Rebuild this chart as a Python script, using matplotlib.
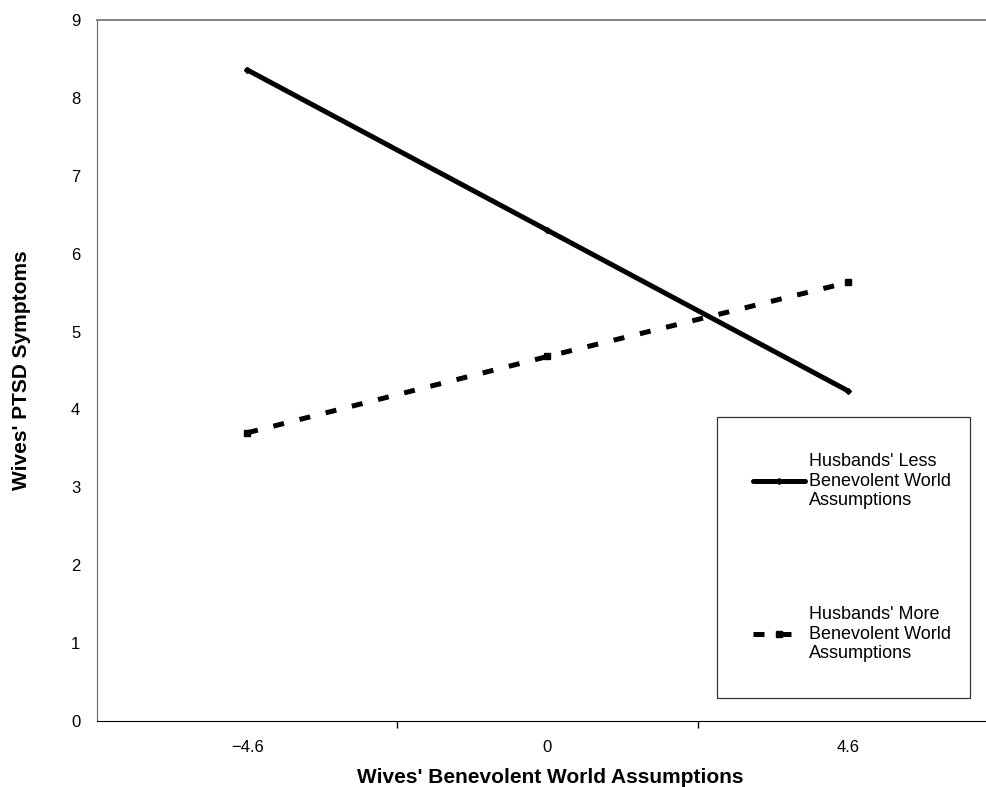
import matplotlib
matplotlib.use("Agg")
import matplotlib.pyplot as plt

plt.rcParams['font.family'] = ['Liberation Sans', 'DejaVu Sans']

# data
x_labels = ["\u22124.6", "0", "4.6"]
less_benevolent = [8.36, 6.30, 4.24]
more_benevolent = [3.70, 4.68, 5.63]
series_names = ["Husbands' Less\nBenevolent World\nAssumptions",
                "Husbands' More\nBenevolent World\nAssumptions"]
y_ticks = list(range(0, 10))

fig = plt.figure(figsize=(9.87, 7.87), dpi=100)
# plot area runs a bit past the right edge of the picture, as in the original
ax = fig.add_axes([97 / 987, 66 / 787, 901 / 987, 701 / 787])

x = list(range(len(x_labels)))
ax.plot(x, less_benevolent, color='black', lw=3.6, solid_capstyle='round',
        marker='D', markersize=3, label=series_names[0])
ax.plot(x, more_benevolent, color='black', lw=3.6, dashes=(2.2, 3.2),
        dash_capstyle='butt', marker='s', markersize=5, label=series_names[1])

ax.set_xlim(-0.5, 2.5)
ax.set_ylim(0, 9)
ax.set_yticks(y_ticks)
ax.set_xticks(x)
ax.set_xticklabels(x_labels)
ax.set_xticks([0.5, 1.5], minor=True)
ax.tick_params(axis='x', which='major', length=0, pad=14, labelsize=12)
ax.tick_params(axis='x', which='minor', length=5, width=1, direction='out')
ax.tick_params(axis='y', length=0, pad=12, labelsize=12)

ax.spines['right'].set_visible(False)
ax.spines['top'].set_color('#808080')
ax.spines['top'].set_linewidth(1.4)
ax.spines['left'].set_color('#666666')
ax.spines['bottom'].set_color('black')

ax.set_xlabel("Wives' Benevolent World Assumptions", fontsize=15, fontweight='bold')
ax.xaxis.set_label_coords(0.503, -0.067)
ax.set_ylabel("Wives' PTSD Symptoms", fontsize=15, fontweight='bold')
ax.yaxis.set_label_coords(-0.073, 0.5)

leg = fig.legend(loc='upper left', bbox_to_anchor=(717 / 987, 1 - 417 / 787, 253 / 987, 0),
                 mode='expand', borderaxespad=0, borderpad=2.0, labelspacing=5.35,
                 handlelength=2.9, handletextpad=0.17, fontsize=13,
                 fancybox=False, frameon=True, edgecolor='black')
leg.get_frame().set_linewidth(0.9)

fig.savefig('out.png', dpi=100)
